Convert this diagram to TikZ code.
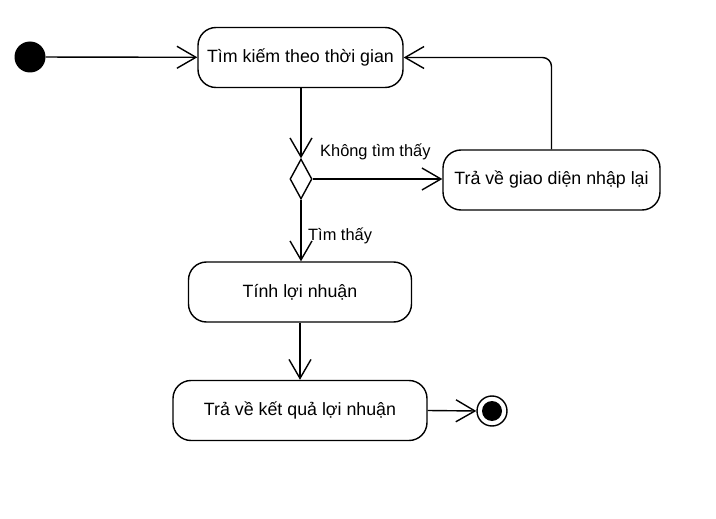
\documentclass[tikz,border=0pt]{standalone}
\usepackage{fontspec}
\setmainfont{Liberation Sans}
\usetikzlibrary{arrows.meta,shapes.geometric}
\begin{document}
\begin{tikzpicture}[x=1pt,y=-1pt,
  act/.style={draw,line width=1.4pt,rounded corners=18pt,minimum height=60pt,font=\fontsize{17.8}{21}\selectfont,inner sep=0pt},
  flow/.style={line width=1.4pt,-{Straight Barb[length=19pt,width=22pt,line width=1.4pt]}},
  lbl/.style={font=\fontsize{16.4}{19}\selectfont,inner sep=0pt}]
\useasboundingbox (0,0) rectangle (716,519);
\node[circle,fill=black,minimum size=31pt,inner sep=0pt] (start) at (30,57) {};
\node[act,minimum width=205pt] (search) at (300.5,57.5) {Tìm kiếm theo thời gian};
\node[draw,line width=1.4pt,diamond,minimum width=22pt,minimum height=40pt,inner sep=0pt,aspect=0.55] (dec) at (301,179) {};
\node[act,minimum width=217pt] (retry) at (551.5,180) {Trả về giao diện nhập lại};
\node[act,minimum width=223pt] (calc) at (300,292) {Tính lợi nhuận};
\node[act,minimum width=254pt] (result) at (300,410.5) {Trả về kết quả lợi nhuận};
\node[circle,draw,line width=1.4pt,minimum size=30pt,inner sep=0pt] (end) at (492,411) {};
\node[circle,fill=black,minimum size=20pt,inner sep=0pt] (endin) at (492,411) {};
\draw[flow] (start) -- (search);
\draw[flow] (search.south -| dec.north) -- (dec.north);
\draw[flow] (dec.east) -- (retry.west |- dec.east);
\draw[flow,rounded corners=9pt] (retry.north) -- (retry.north |- search.east) -- (search.east);
\draw[flow] (dec.south) -- (dec.south |- calc.north);
\draw[flow] (calc.south) -- (result.north);
\draw[flow] (result.east) -- (end.west);
\node[lbl,anchor=west] (l1) at (320,152) {Không tìm thấy};
\node[lbl,anchor=west] (l2) at (308,236) {Tìm thấy};
\end{tikzpicture}
\end{document}
